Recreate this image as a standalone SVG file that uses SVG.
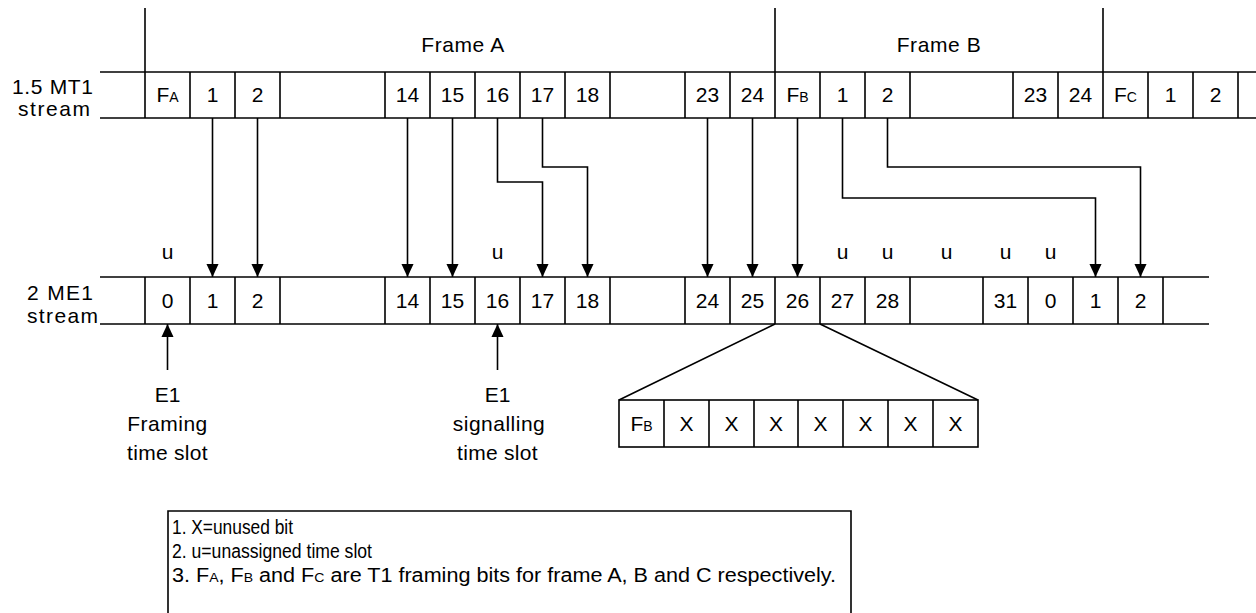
<svg xmlns="http://www.w3.org/2000/svg" width="1256" height="613" viewBox="0 0 1256 613">
<defs>
<style>
.ln{stroke:#000;stroke-width:1.6;fill:none}
.t{font-family:"Liberation Sans",Arial,sans-serif;font-size:21px;fill:#000;text-anchor:middle}
.l{font-family:"Liberation Sans",Arial,sans-serif;font-size:21px;fill:#000}
.s{font-size:14px}
.lg{font-family:"Liberation Sans",Arial,sans-serif;font-size:20px;fill:#000}
</style>
<marker id="ah" markerUnits="userSpaceOnUse" markerWidth="13" markerHeight="14" refX="14" refY="6.5" orient="auto" viewBox="0 0 14 13">
<path d="M0,0 L14,6.5 L0,13 z" fill="#000"/>
</marker>
</defs>
<rect width="1256" height="613" fill="#fff"/>

<g id="frame-labels">
<line class="ln" x1="145" y1="8" x2="145" y2="72"/>
<line class="ln" x1="775" y1="8" x2="775" y2="72"/>
<line class="ln" x1="1103" y1="8" x2="1103" y2="72"/>
<text class="t" x="463" y="52" letter-spacing="0.6">Frame A</text>
<text class="t" x="939" y="52" letter-spacing="0.6">Frame B</text>
</g>

<g id="t1-stream">
<text class="l" x="12" y="94" textLength="81" lengthAdjust="spacing">1.5 MT1</text>
<text class="l" x="18" y="116" textLength="72" lengthAdjust="spacing">stream</text>
<line class="ln" x1="100" y1="72" x2="1256" y2="72"/>
<line class="ln" x1="100" y1="118" x2="1256" y2="118"/>
<path class="ln" d="M145,72V118M190,72V118M235,72V118M280,72V118M385,72V118M430,72V118M475,72V118M520,72V118M565,72V118M610,72V118M685,72V118M730,72V118M775,72V118M820,72V118M865,72V118M910,72V118M1013,72V118M1058,72V118M1103,72V118M1148,72V118M1193,72V118M1238,72V118"/>
<text class="t" x="167.5" y="102">F<tspan class="s">A</tspan></text>
<text class="t" x="212.5" y="102">1</text>
<text class="t" x="257.5" y="102">2</text>
<text class="t" x="407.5" y="102">14</text>
<text class="t" x="452.5" y="102">15</text>
<text class="t" x="497.5" y="102">16</text>
<text class="t" x="542.5" y="102">17</text>
<text class="t" x="587.5" y="102">18</text>
<text class="t" x="707.5" y="102">23</text>
<text class="t" x="752.5" y="102">24</text>
<text class="t" x="797.5" y="102">F<tspan class="s">B</tspan></text>
<text class="t" x="842.5" y="102">1</text>
<text class="t" x="887.5" y="102">2</text>
<text class="t" x="1035.5" y="102">23</text>
<text class="t" x="1080.5" y="102">24</text>
<text class="t" x="1125.5" y="102">F<tspan class="s">C</tspan></text>
<text class="t" x="1170.5" y="102">1</text>
<text class="t" x="1215.5" y="102">2</text>
</g>

<g id="e1-stream">
<text class="l" x="27" y="300" textLength="66" lengthAdjust="spacing">2 ME1</text>
<text class="l" x="27" y="323" textLength="71" lengthAdjust="spacing">stream</text>
<line class="ln" x1="100" y1="277" x2="1209" y2="277"/>
<line class="ln" x1="100" y1="324" x2="1209" y2="324"/>
<path class="ln" d="M145,277V324M190,277V324M235,277V324M280,277V324M385,277V324M430,277V324M475,277V324M520,277V324M565,277V324M610,277V324M685,277V324M730,277V324M775,277V324M820,277V324M865,277V324M910,277V324M983,277V324M1028,277V324M1073,277V324M1118,277V324M1163,277V324"/>
<text class="t" x="167.5" y="308">0</text>
<text class="t" x="212.5" y="308">1</text>
<text class="t" x="257.5" y="308">2</text>
<text class="t" x="407.5" y="308">14</text>
<text class="t" x="452.5" y="308">15</text>
<text class="t" x="497.5" y="308">16</text>
<text class="t" x="542.5" y="308">17</text>
<text class="t" x="587.5" y="308">18</text>
<text class="t" x="707.5" y="308">24</text>
<text class="t" x="752.5" y="308">25</text>
<text class="t" x="797.5" y="308">26</text>
<text class="t" x="842.5" y="308">27</text>
<text class="t" x="887.5" y="308">28</text>
<text class="t" x="1005.5" y="308">31</text>
<text class="t" x="1050.5" y="308">0</text>
<text class="t" x="1095.5" y="308">1</text>
<text class="t" x="1140.5" y="308">2</text>
</g>

<g id="unassigned-labels">
<text class="t" x="167.5" y="259">u</text>
<text class="t" x="497.5" y="259">u</text>
<text class="t" x="842.5" y="259">u</text>
<text class="t" x="887.5" y="259">u</text>
<text class="t" x="946.5" y="259">u</text>
<text class="t" x="1005.5" y="259">u</text>
<text class="t" x="1050.5" y="259">u</text>
</g>

<g id="connectors">
<path class="ln" marker-end="url(#ah)" d="M212.5,118V277"/>
<path class="ln" marker-end="url(#ah)" d="M257.5,118V277"/>
<path class="ln" marker-end="url(#ah)" d="M407.5,118V277"/>
<path class="ln" marker-end="url(#ah)" d="M452.5,118V277"/>
<path class="ln" marker-end="url(#ah)" d="M497.5,118V182H542.5V277"/>
<path class="ln" marker-end="url(#ah)" d="M542.5,118V167H587.5V277"/>
<path class="ln" marker-end="url(#ah)" d="M707.5,118V277"/>
<path class="ln" marker-end="url(#ah)" d="M752.5,118V277"/>
<path class="ln" marker-end="url(#ah)" d="M797.5,118V277"/>
<path class="ln" marker-end="url(#ah)" d="M842.5,118V198H1095.5V277"/>
<path class="ln" marker-end="url(#ah)" d="M887.5,118V167H1140.5V277"/>
<path class="ln" marker-end="url(#ah)" d="M167.5,370V324"/>
<path class="ln" marker-end="url(#ah)" d="M497.5,370V324"/>
<path class="ln" d="M775,324L619,400M820,324L978,400"/>
</g>

<g id="framing-label">
<text class="t" x="167.5" y="402">E1</text>
<text class="t" x="167.5" y="431" letter-spacing="0.5">Framing</text>
<text class="t" x="167.5" y="460" letter-spacing="0.3">time slot</text>
</g>

<g id="signalling-label">
<text class="t" x="497.5" y="402">E1</text>
<text class="t" x="499" y="431" letter-spacing="0.5">signalling</text>
<text class="t" x="497.5" y="460" letter-spacing="0.3">time slot</text>
</g>

<g id="bit-expansion">
<rect class="ln" x="619" y="400" width="359" height="47"/>
<path class="ln" d="M664,400V447M709,400V447M754,400V447M798,400V447M843,400V447M888,400V447M933,400V447"/>
<text class="t" x="641.5" y="431">F<tspan class="s">B</tspan></text>
<text class="t" x="686.5" y="431">X</text>
<text class="t" x="731.5" y="431">X</text>
<text class="t" x="776" y="431">X</text>
<text class="t" x="820.5" y="431">X</text>
<text class="t" x="865.5" y="431">X</text>
<text class="t" x="910.5" y="431">X</text>
<text class="t" x="955.5" y="431">X</text>
</g>

<g id="legend">
<path class="ln" d="M168,620V511H851V620"/>
<text class="lg" x="172" y="534" textLength="121" lengthAdjust="spacingAndGlyphs">1. X=unused bit</text>
<text class="lg" x="172" y="558" textLength="200" lengthAdjust="spacingAndGlyphs">2. u=unassigned time slot</text>
<text class="lg" x="172" y="582" textLength="664" lengthAdjust="spacingAndGlyphs">3. F<tspan font-size="13px">A</tspan>, F<tspan font-size="13px">B</tspan> and F<tspan font-size="13px">C</tspan> are T1 framing bits for frame A, B and C respectively.</text>
</g>
</svg>
